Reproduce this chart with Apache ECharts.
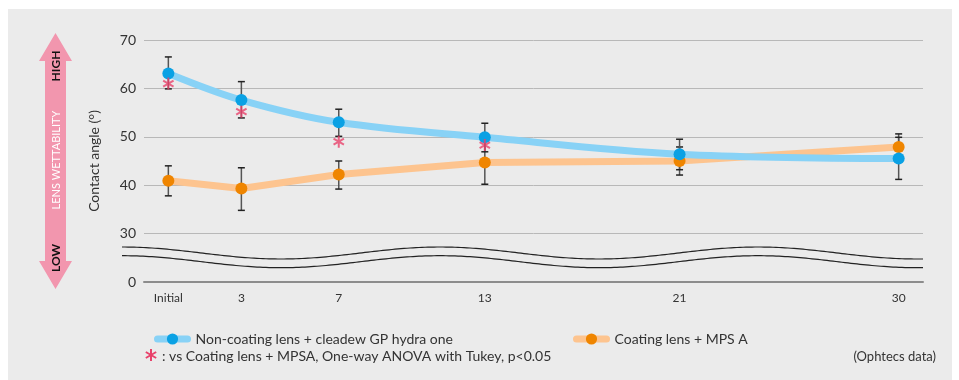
<!DOCTYPE html>
<html>
<head>
<meta charset="utf-8">
<script src="https://cdn.jsdelivr.net/npm/echarts@6/dist/echarts.min.js"></script>
<style>
html,body{margin:0;padding:0;background:#ffffff;}
#chart{width:959px;height:380px;}
</style>
</head>
<body>
<div id="chart"></div>
<script>
// ---- data ----
var days = [0, 3, 7, 13, 21, 30];
var dayLabels = ['Initial', '3', '7', '13', '21', '30'];
var yTicks = [20, 30, 40, 50, 60, 70];       // 20 is drawn as the broken-axis "0"
var yTickLabels = ['0', '30', '40', '50', '60', '70'];
var blueName = 'Non-coating lens + cleadew GP hydra one';
var orangeName = 'Coating lens + MPS A';
var blueMean = [63.1, 57.6, 53.0, 49.9, 46.4, 45.5];
var blueLow  = [59.9, 53.9, 50.1, 46.9, 43.2, 41.2];
var blueHigh = [66.5, 61.4, 55.7, 52.8, 49.5, 49.9];
var orangeMean = [40.9, 39.3, 42.2, 44.7, 45.0, 47.9];
var orangeLow  = [37.8, 34.8, 39.2, 40.2, 42.1, 45.1];
var orangeHigh = [44.0, 43.6, 45.0, 49.2, 47.9, 50.6];
var starDays = [0, 3, 7, 13];
var starValues = [61.0, 55.2, 49.0, 48.3];

var FONT = 'Lato';
var starPath = 'M-1,-6 L1,-6 L1,6 L-1,6 Z M4.696,-3.866 L5.696,-2.134 L-4.696,3.866 L-5.696,2.134 Z M-5.696,-2.134 L-4.696,-3.866 L5.696,2.134 L4.696,3.866 Z';

function pairs(xs, ys) { return xs.map(function (x, i) { return [x, ys[i]]; }); }
function triples(xs, lo, hi) { return xs.map(function (x, i) { return [x, lo[i], hi[i]]; }); }

function errRender(params, api) {
  var x = api.value(0);
  var top = api.coord([x, api.value(2)]);
  var bot = api.coord([x, api.value(1)]);
  var w = 3.5;
  var st = { stroke: '#222', lineWidth: 1.5 };
  return {
    type: 'group',
    children: [
      { type: 'line', shape: { x1: top[0], y1: top[1], x2: bot[0], y2: bot[1] }, style: { stroke: '#555', lineWidth: 1.5 } },
      { type: 'line', shape: { x1: top[0] - w, y1: top[1], x2: top[0] + w, y2: top[1] }, style: st },
      { type: 'line', shape: { x1: bot[0] - w, y1: bot[1], x2: bot[0] + w, y2: bot[1] }, style: st }
    ]
  };
}

var chart = echarts.init(document.getElementById('chart'), null, { renderer: 'canvas' });

function wavePoints(yc) {
  var pts = [];
  for (var x = 122; x <= 923; x += 3) {
    var xx = Math.min(x, 917);
    var y = yc - 6 * Math.cos(2 * Math.PI * (xx - 122) / 318);
    pts.push([x, y]);
  }
  pts.push([923, yc + 6]);
  return pts;
}

function starGroup(cx, cy) {
  var kids = [0, Math.PI / 3, -Math.PI / 3].map(function (r) {
    return { type: 'rect', rotation: r, shape: { x: -1, y: -6, width: 2, height: 12 }, style: { fill: '#e8426b' } };
  });
  return { type: 'group', x: cx, y: cy, z: 11, children: kids };
}

var legendCommon = {
  top: 327, itemWidth: 30, itemHeight: 14, itemGap: 10,
  lineStyle: { width: 7, cap: 'round' },
  textStyle: { fontSize: 14, color: '#333', fontFamily: FONT, padding: [0, 0, 0, 3] }
};

var option = {
  backgroundColor: '#ffffff',
  animation: false,
  textStyle: { fontFamily: FONT },
  grid: { left: 144, right: 36, top: 40, bottom: 98 },
  xAxis: {
    type: 'value', min: -1, max: 31,
    axisLine: { show: true, lineStyle: { color: '#8c8c8c', width: 2 } },
    axisTick: { show: false },
    splitLine: { show: false },
    axisLabel: {
      customValues: days,
      margin: 10,
      fontSize: 12, color: '#333', fontFamily: FONT,
      formatter: function (v) { var i = days.indexOf(v); return i >= 0 ? dayLabels[i] : ''; }
    }
  },
  yAxis: {
    type: 'value', min: 20, max: 70, interval: 10,
    name: 'Contact angle (°)', nameLocation: 'middle', nameRotate: 90, nameGap: 43,
    nameTextStyle: { fontSize: 14, color: '#333', fontFamily: FONT },
    axisLine: { show: false },
    axisTick: { show: false },
    splitLine: { show: true, lineStyle: { color: '#b8b8b8', width: 1 } },
    axisLabel: {
      margin: 8, fontSize: 14, color: '#333', fontFamily: FONT,
      formatter: function (v) { var i = yTicks.indexOf(v); return i >= 0 ? yTickLabels[i] : ''; }
    }
  },
  legend: [
    Object.assign({ data: [blueName], left: 149 }, legendCommon),
    Object.assign({ data: [orangeName], left: 568 }, legendCommon)
  ],
  series: [
    {
      type: 'custom', name: 'errO', renderItem: errRender, data: triples(days, orangeLow, orangeHigh), z: 1, silent: true
    },
    {
      type: 'custom', name: 'errB', renderItem: errRender, data: triples(days, blueLow, blueHigh), z: 1, silent: true
    },
    {
      type: 'line', name: orangeName, data: pairs(days, orangeMean), z: 3,
      smooth: false, symbol: 'circle', symbolSize: 12,
      lineStyle: { color: '#fdc48f', width: 7 },
      itemStyle: { color: '#ef8500' }
    },
    {
      type: 'line', name: blueName, data: pairs(days, blueMean), z: 4,
      smooth: 0.35, symbol: 'circle', symbolSize: 12,
      lineStyle: { color: '#88d2f6', width: 7 },
      itemStyle: { color: '#0aa1e4' }
    },
    {
      type: 'scatter', name: 'stars', data: pairs(starDays, starValues), z: 5,
      symbol: 'path://' + starPath, symbolSize: 12, symbolKeepAspect: true,
      itemStyle: { color: '#e8426b' }
    }
  ],
  graphic: [
    { type: 'rect', z: -10, shape: { x: 8, y: 9, width: 944, height: 371 }, style: { fill: '#ebebeb' } },
    { type: 'polyline', z: 10, shape: { points: wavePoints(253) }, style: { stroke: '#222', lineWidth: 1.2, fill: null } },
    { type: 'polyline', z: 10, shape: { points: wavePoints(261.7) }, style: { stroke: '#222', lineWidth: 1.2, fill: null } },
    {
      type: 'polygon', z: 10,
      shape: { points: [[55.5, 33], [72, 61], [66, 61], [66, 261], [72, 261], [55.5, 289], [39, 261], [45, 261], [45, 61], [39, 61]] },
      style: { fill: '#f296ae' }
    },
    { type: 'text', z: 11, x: 56, y: 66, rotation: Math.PI / 2, style: { text: 'HIGH', fill: '#111', font: 'bold 12px ' + FONT, align: 'center', verticalAlign: 'middle' } },
    { type: 'text', z: 11, x: 56, y: 258, rotation: Math.PI / 2, style: { text: 'LOW', fill: '#111', font: 'bold 12px ' + FONT, align: 'center', verticalAlign: 'middle' } },
    { type: 'text', z: 11, x: 56, y: 160, rotation: Math.PI / 2, style: { text: 'LENS WETTABILITY', fill: '#ffffff', font: '11px ' + FONT, align: 'center', verticalAlign: 'middle' } },
    starGroup(151, 355),
    { type: 'text', z: 11, x: 162, y: 356, style: { text: ': vs Coating lens + MPSA, One-way ANOVA with Tukey, p<0.05', fill: '#333', font: '14px ' + FONT, align: 'left', verticalAlign: 'middle' } },
    { type: 'text', z: 11, x: 936, y: 357, style: { text: '(Ophtecs data)', fill: '#333', font: '13px ' + FONT, align: 'right', verticalAlign: 'middle' } }
  ]
};
chart.setOption(option);
</script>
</body>
</html>
